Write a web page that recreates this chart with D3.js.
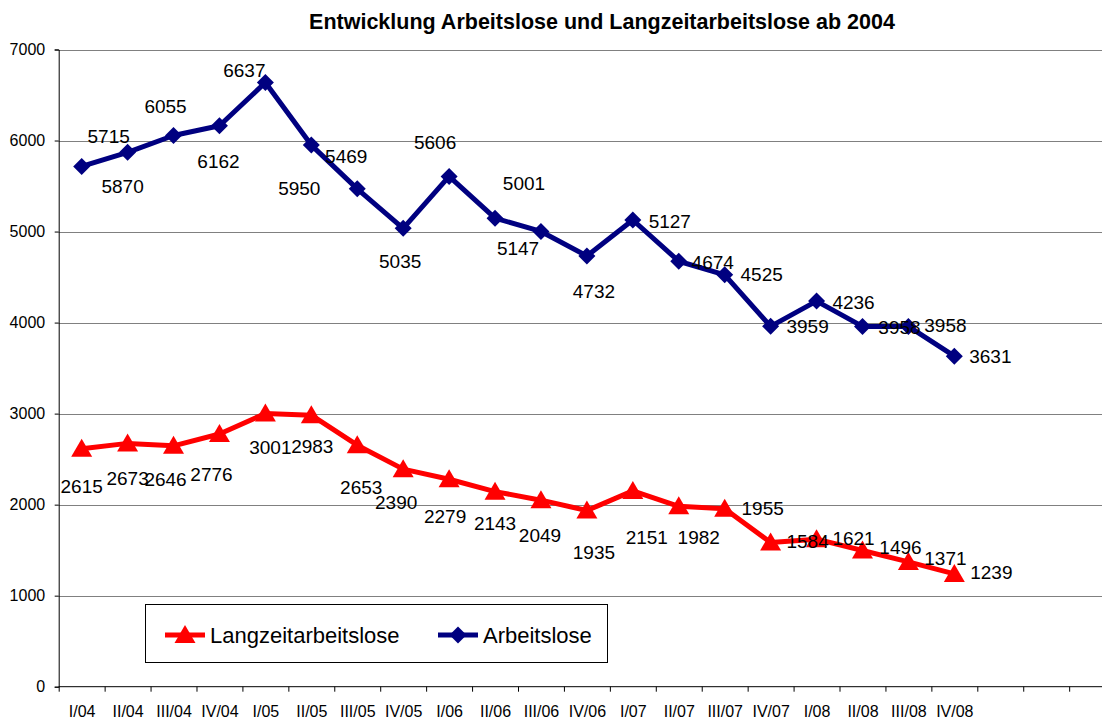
<!DOCTYPE html>
<html><head><meta charset="utf-8">
<script src="https://cdn.jsdelivr.net/npm/d3@7"></script>
<style>
body{margin:0;background:#fff}
svg{display:block}
text{font-family:Arial,"Liberation Sans",sans-serif}
</style>
</head><body>
<svg id="chart" width="1102" height="720"></svg>
<script>
const title = "Entwicklung Arbeitslose und Langzeitarbeitslose ab 2004";
const categories = ["I/04","II/04","III/04","IV/04","I/05","II/05","III/05","IV/05","I/06","II/06","III/06","IV/06","I/07","II/07","III/07","IV/07","I/08","II/08","III/08","IV/08"];
const emptySlots = 3;
const arbeitslose = [5715,5870,6055,6162,6637,5950,5469,5035,5606,5147,5001,4732,5127,4674,4525,3959,4236,3958,3958,3631];
const langzeitarbeitslose = [2615,2673,2646,2776,3001,2983,2653,2390,2279,2143,2049,1935,2151,1982,1955,1584,1621,1496,1371,1239];
const yTicks = [0,1000,2000,3000,4000,5000,6000,7000];
const seriesNames = ["Langzeitarbeitslose","Arbeitslose"];
// data label placement (dx, dy from the point)
const arbLabelOffsets = [[27,-30],[-5,34],[-8,-29],[-1,36],[-21,-12],[-12,43],[-11,-33],[-3,33],[-14,-34],[23,30],[-17,-48],[7,35],[37,1],[34,1],[37,0],[37,0],[37,1],[37,1],[37,-1],[36,0]];
const lzLabelOffsets = [[0,38],[0,35],[-8,34],[-8,40],[5,34],[1,31],[4,42],[-7,33],[-4,37],[0,32],[-1,35],[7,42],[14,46],[20,31],[38,0],[37,-1],[37,-1],[38,-3],[37,-4],[37,-2]];

const svg = d3.select("#chart");
const mLeft = 58.7, mTop = 49.5, mBottom = 686.7, step = 45.93;
const nSlots = categories.length + emptySlots;
const xi = d3.scaleLinear().domain([0, nSlots]).range([mLeft, mLeft + nSlots*step]);
const y = d3.scaleLinear().domain([0, 7000]).range([mBottom, mTop]);
const xc = i => xi(i + 0.5);
const FONT = "Arial, 'Liberation Sans', sans-serif";

// gridlines
svg.append("g").selectAll("line").data(yTicks.filter(v=>v>0)).join("line")
  .attr("x1", mLeft).attr("x2", 1102)
  .attr("y1", d=>Math.round(y(d))+0.5).attr("y2", d=>Math.round(y(d))+0.5)
  .attr("stroke", "#808080").attr("stroke-width", 1);

// y axis
const yAxis = svg.append("g").attr("transform", `translate(${mLeft},0)`)
  .call(d3.axisLeft(y).tickValues(yTicks).tickSize(4).tickPadding(9.5).tickFormat(d3.format("d")));
yAxis.selectAll("text").attr("font-size", 16).attr("fill", "#000").style("font-family", FONT);
yAxis.selectAll("line,path").attr("stroke", "#000");

// x axis ticks at slot boundaries
const xAxis = svg.append("g").attr("transform", `translate(0,${mBottom})`)
  .call(d3.axisBottom(xi).tickValues(d3.range(0, nSlots+1)).tickSize(5).tickSizeOuter(0).tickFormat(""));
xAxis.selectAll("line,path").attr("stroke", "#000");
xAxis.select("path").attr("d", `M${mLeft},0H1102`);
// x labels
const xLab = svg.append("g").attr("transform", `translate(0,${mBottom})`)
  .call(d3.axisBottom(xi).tickValues(d3.range(categories.length).map(i=>i+0.5)).tickSize(0).tickPadding(18.5)
    .tickFormat(d => categories[Math.floor(d)]));
xLab.select("path").remove();
xLab.selectAll("text").attr("font-size", 16).attr("fill", "#000").style("font-family", FONT);

// title
svg.append("text").attr("x", 602).attr("y", 29).attr("text-anchor","middle")
  .attr("font-size", 21.5).attr("font-weight","bold").text(title);

const diamond = "M0,-8.5L8.5,0L0,8.5L-8.5,0Z";
const triangle = "M0,-10L10.5,8L-10.5,8Z";

const line = d3.line().x((d,i)=>xc(i)).y(d=>y(d));

function drawSeries(values, color, markerPath, offsets) {
  const g = svg.append("g");
  g.append("path").datum(values).attr("d", line).attr("fill","none")
    .attr("stroke", color).attr("stroke-width", 5).attr("stroke-linejoin","round");
  g.selectAll("path.m").data(values).join("path").attr("class","m")
    .attr("d", markerPath).attr("fill", color)
    .attr("transform", (d,i)=>`translate(${xc(i)},${y(d)})`);
  g.selectAll("text").data(values).join("text")
    .attr("x", (d,i)=>xc(i)+offsets[i][0]).attr("y", (d,i)=>y(d)+offsets[i][1])
    .attr("dy","0.35em").attr("text-anchor","middle").attr("font-size", 19)
    .attr("fill","#000").text(d=>d);
}
drawSeries(langzeitarbeitslose, "#ff0000", triangle, lzLabelOffsets);
drawSeries(arbeitslose, "#000080", diamond, arbLabelOffsets);

// legend
const lg = svg.append("g");
lg.append("rect").attr("x",145.5).attr("y",604.5).attr("width",462).attr("height",58)
  .attr("fill","#fff").attr("stroke","#000").attr("stroke-width",1);
const legendItems = [
  {name: seriesNames[0], color:"#ff0000", marker: triangle, x0:165},
  {name: seriesNames[1], color:"#000080", marker: diamond, x0:438}
];
legendItems.forEach(it=>{
  lg.append("line").attr("x1",it.x0).attr("x2",it.x0+40).attr("y1",635).attr("y2",635)
    .attr("stroke",it.color).attr("stroke-width",5);
  lg.append("path").attr("d",it.marker).attr("fill",it.color).attr("transform",`translate(${it.x0+20},635)`);
  lg.append("text").attr("x",it.x0+45).attr("y",635).attr("dy","0.35em").attr("font-size",22).attr("fill","#000").text(it.name);
});
</script>
</body></html>
